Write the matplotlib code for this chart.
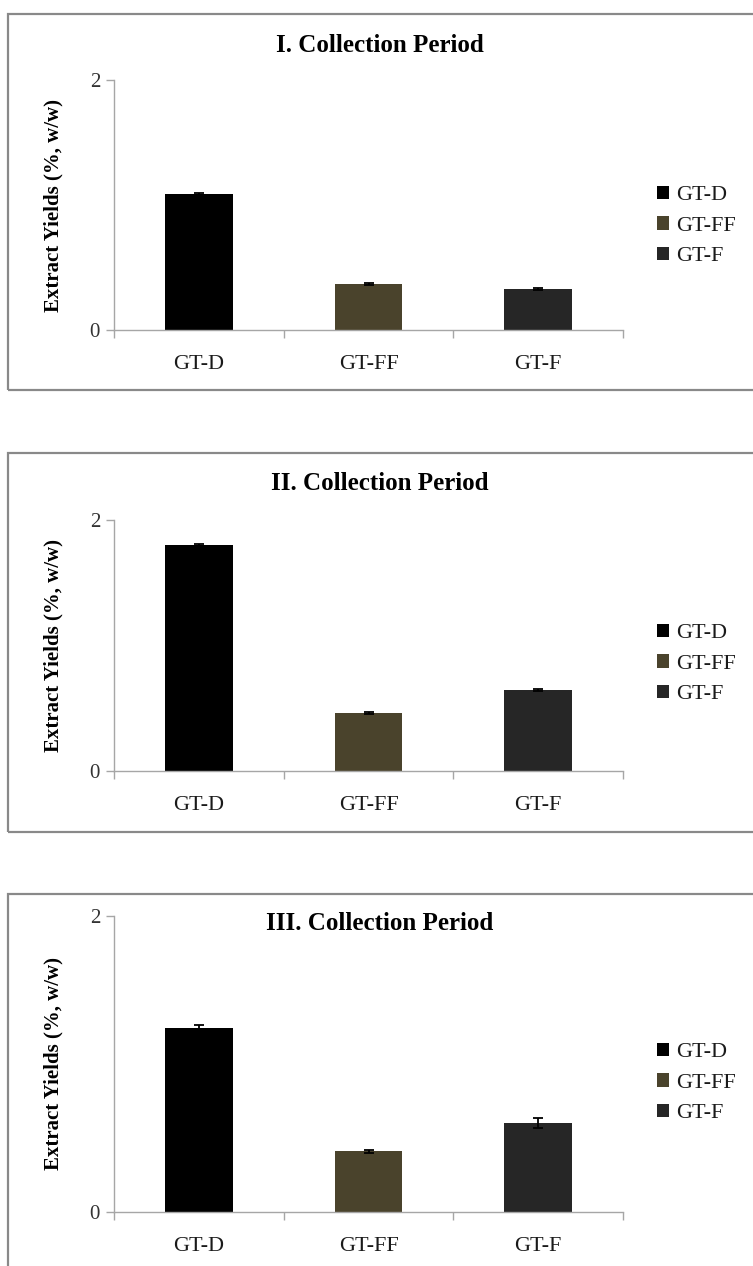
import matplotlib
matplotlib.use("Agg")
import matplotlib.pyplot as plt
from matplotlib.patches import Rectangle, Patch

plt.rcParams['font.family'] = ['Liberation Serif', 'DejaVu Serif']

# data
samples = ['GT-D', 'GT-FF', 'GT-F']
titles = ['I. Collection Period', 'II. Collection Period', 'III. Collection Period']
period_I = [1.09, 0.37, 0.325]
err_I = [0.010, 0.008, 0.008]
period_II = [1.80, 0.46, 0.645]
err_II = [0.010, 0.008, 0.008]
period_III = [1.245, 0.41, 0.60]
err_III = [0.020, 0.010, 0.032]
colors = ['#000000', '#4a432c', '#262626']

W, H = 753, 1266
fig = plt.figure(figsize=(W / 100, H / 100), dpi=100)

def fx(px):
    return px / W

def fy(px):
    return 1 - px / H

# pixel layout: (axis top, axis bottom, border top, border bottom, title y, legend centre y)
layout = [
    (80, 330, 14, 390, 45, 226),
    (520, 771, 453, 832, 484, 664),
    (916, 1212, 894, 1280, 923, 1083),
]
values = [period_I, period_II, period_III]
errors = [err_I, err_II, err_III]

grey = '#a6a6a6'
x0, x1 = 114, 623

for (top, bot, btop, bbot, ty, ly), vals, errs, title in zip(layout, values, errors, titles):
    # outer box
    fig.add_artist(Rectangle((fx(8), fy(bbot)), fx(800), (bbot - btop) / H,
                             transform=fig.transFigure, fill=False,
                             edgecolor='#898989', lw=1.6))
    ax = fig.add_axes([fx(x0), fy(bot), fx(x1 - x0), (bot - top) / H])
    pos = range(len(samples))
    ax.bar(pos, vals, width=0.4, color=colors, edgecolor='none')
    ax.errorbar(pos, vals, yerr=errs, fmt='none', ecolor='black',
                elinewidth=1.3, capsize=3.5, capthick=1.3)
    ax.set_xlim(-0.5, 2.5)
    ax.set_ylim(0, 2)
    ax.set_yticks([0, 2])
    ax.set_yticklabels(['0', '2'])
    # ticks sit between the categories, labels at the centres
    ax.set_xticks([-0.5, 0.5, 1.5, 2.5])
    ax.set_xticklabels([])
    ax.set_xticks(list(pos), minor=True)
    ax.set_xticklabels(samples, minor=True)
    ax.tick_params(axis='x', which='major', length=6, color=grey, width=1)
    ax.tick_params(axis='x', which='minor', length=0, pad=18, labelsize=16,
                   labelcolor='#1a1a1a')
    ax.tick_params(axis='y', length=6, color=grey, width=1, pad=4, labelsize=15,
                   labelcolor='#333333')
    for s in ['top', 'right']:
        ax.spines[s].set_visible(False)
    for s in ['left', 'bottom']:
        ax.spines[s].set_color(grey)
        ax.spines[s].set_linewidth(1)
    ax.set_ylabel('Extract Yields (%, w/w)', fontsize=15, fontweight='bold',
                  labelpad=19)
    fig.text(fx(380), fy(ty), title, ha='center', va='center', fontsize=18,
             fontweight='bold')
    handles = [Patch(facecolor=c, edgecolor='none') for c in colors]
    fig.legend(handles, samples, loc='center left',
               bbox_to_anchor=(fx(646), fy(ly)), bbox_transform=fig.transFigure,
               frameon=False, fontsize=16, handlelength=0.55, handleheight=0.55,
               handletextpad=0.3, labelspacing=0.5, borderpad=0,
               labelcolor='#1a1a1a')

fig.savefig('out.png', dpi=100)
